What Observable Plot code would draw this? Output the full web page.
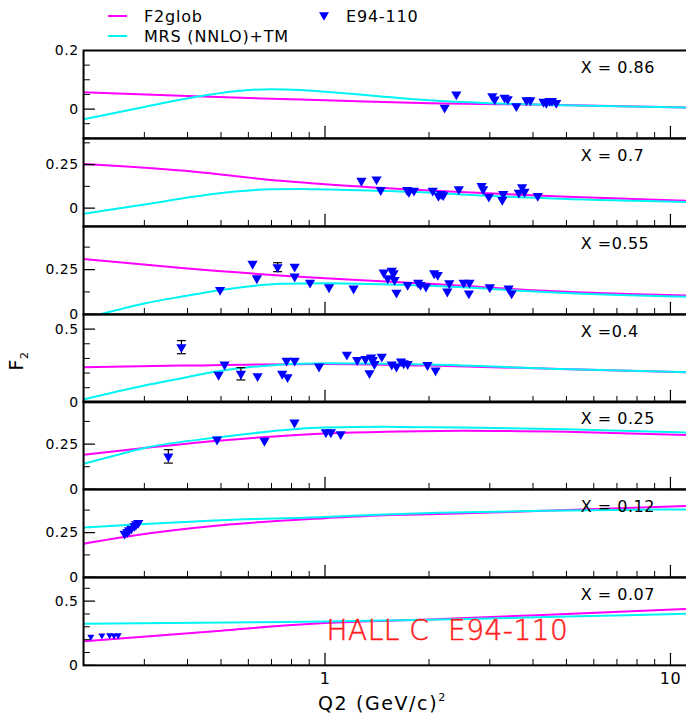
<!DOCTYPE html>
<html><head><meta charset="utf-8">
<script src="https://cdn.jsdelivr.net/npm/d3@7"></script>
<script src="https://cdn.jsdelivr.net/npm/@observablehq/plot@0.6"></script>
<style>
body{margin:0;background:#fff;}
#wrap{position:relative;width:686px;height:721px;overflow:hidden;font-family:"DejaVu Sans",sans-serif;letter-spacing:0.5px;color:#000;}
.panel{position:absolute;left:0;}
.txt{position:absolute;white-space:nowrap;}
</style></head><body><div id="wrap"></div>
<script>
// ---------- data ----------
const panelLabels = ["X = 0.86", "X = 0.7", "X =0.55", "X =0.4", "X = 0.25", "X = 0.12", "X = 0.07"];
const labelQ2 = 5.5;
const yDomains = [[-0.1, 0.2], [-0.105, 0.4], [0, 0.49], [0, 0.6], [0, 0.485], [0, 0.49], [0, 0.684]];
const yTickSteps = [0.05, 0.125, 0.125, 0.1, 0.125, 0.125, 0.1];
const yTickLabels = [[0, 0.2], [0, 0.25], [0, 0.25], [0, 0.5], [0, 0.25], [0, 0.25], [0, 0.5]];
const xDomain = [0.2, 11.2];
const xMinorTicks = [0.3, 0.4, 0.5, 0.6, 0.7, 0.8, 0.9, 2, 3, 4, 5, 6, 7, 8, 9];
const xMajorTicks = [1, 10];
const xTickLabels = [1, 10];
const seriesNames = ["F2glob", "MRS (NNLO)+TM", "E94-110"];
const annotation = "HALL C\u00a0\u00a0E94-110";
const annotationPos = [1.01, 0.27];

// F2glob curves [Q2, F2]
const glob_086 = [[0.2,0.057],[0.4,0.045],[0.7,0.035],[1,0.030],[2,0.020],[4.8,0.014],[11.2,0.005]];
const glob_070 = [[0.2,0.253],[0.42,0.209],[0.7,0.161],[1,0.137],[2.13,0.098],[4.8,0.066],[11.2,0.042]];
const glob_055 = [[0.2,0.309],[0.385,0.258],[1,0.201],[2,0.170],[4.8,0.127],[11.2,0.105]];
const glob_040 = [[0.2,0.240],[0.385,0.251],[1,0.262],[2,0.251],[4.8,0.228],[11.2,0.206]];
const glob_025 = [[0.2,0.191],[0.3,0.228],[0.49,0.268],[1,0.309],[1.5,0.318],[2.5,0.324],[5,0.318],[11.2,0.300]];
const glob_012 = [[0.2,0.188],[0.28,0.234],[0.5,0.291],[1,0.330],[1.48,0.347],[2.13,0.353],[4.3,0.371],[11.2,0.398]];
const glob_007 = [[0.2,0.188],[0.5,0.270],[0.763,0.310],[1,0.330],[2,0.357],[5,0.400],[11.2,0.440]];

// MRS (NNLO)+TM curves [Q2, F2]
const mrs_086 = [[0.2,-0.035],[0.3,0.007],[0.42,0.041],[0.55,0.061],[0.7,0.068],[0.85,0.065],[1,0.059],[1.4,0.045],[2,0.030],[3,0.020],[4.8,0.013],[11.2,0.005]];
const mrs_070 = [[0.2,-0.033],[0.3,0.020],[0.42,0.066],[0.55,0.095],[0.7,0.108],[0.85,0.110],[1,0.107],[2,0.089],[3,0.070],[4.8,0.053],[11.2,0.035]];
const mrs_055 = [[0.2,-0.025],[0.3,0.061],[0.385,0.099],[0.5,0.136],[0.75,0.170],[1,0.173],[2,0.159],[4.8,0.121],[11.2,0.098]];
const mrs_040 = [[0.2,0.020],[0.3,0.115],[0.385,0.165],[0.49,0.213],[0.6,0.240],[1,0.267],[2,0.258],[4.8,0.228],[11.2,0.206]];
const mrs_025 = [[0.2,0.141],[0.25,0.190],[0.3,0.228],[0.49,0.287],[1,0.341],[1.5,0.345],[2.5,0.342],[5,0.332],[11.2,0.313]];
const mrs_012 = [[0.2,0.278],[0.5,0.319],[1,0.337],[1.48,0.351],[2.13,0.360],[4.3,0.371],[11.2,0.379]];
const mrs_007 = [[0.2,0.323],[0.763,0.337],[1,0.341],[2,0.355],[5,0.380],[11.2,0.402]];

// E94-110 data [Q2, F2]
const e94_086 = [[2.22,0.005],[2.40,0.050],[3.05,0.044],[3.10,0.033],[3.31,0.039],[3.38,0.034],[3.58,0.010],[3.83,0.030],[3.93,0.030],[4.29,0.025],[4.37,0.021],[4.47,0.028],[4.54,0.028],[4.67,0.021]];
const e94_070 = [[1.275,0.157],[1.41,0.165],[1.45,0.104],[1.73,0.104],[1.75,0.094],[1.81,0.100],[2.05,0.100],[2.13,0.070],[2.17,0.081],[2.20,0.074],[2.44,0.108],[2.84,0.127],[2.87,0.108],[2.98,0.066],[3.28,0.081],[3.26,0.047],[3.64,0.089],[3.72,0.120],[3.78,0.094],[4.13,0.070]];
const e94_055 = [[0.497,0.136],[0.617,0.282],[0.635,0.201],[0.729,0.263],[0.817,0.266],[0.817,0.211],[0.905,0.177],[1.027,0.151],[1.21,0.144],[1.479,0.233],[1.519,0.201],[1.56,0.244],[1.58,0.229],[1.59,0.192],[1.61,0.121],[1.735,0.164],[1.86,0.177],[1.89,0.164],[1.96,0.155],[2.07,0.229],[2.12,0.220],[2.26,0.127],[2.29,0.173],[2.52,0.177],[2.62,0.177],[2.61,0.117],[3.0,0.151],[3.40,0.145],[3.47,0.117]];
const e94_040 = [[0.384,0.377],[0.492,0.188],[0.512,0.258],[0.571,0.195],[0.638,0.179],[0.752,0.195],[0.779,0.172],[0.774,0.285],[0.817,0.285],[0.961,0.245],[1.157,0.326],[1.239,0.289],[1.31,0.296],[1.345,0.199],[1.36,0.307],[1.375,0.289],[1.39,0.262],[1.46,0.312],[1.56,0.258],[1.61,0.245],[1.66,0.280],[1.69,0.267],[1.735,0.262],[1.98,0.255],[2.09,0.218]];
const e94_025 = [[0.352,0.182],[0.487,0.275],[0.668,0.268],[0.816,0.369],[1.006,0.315],[1.04,0.315],[1.11,0.305]];
const e94_012 = [[0.263,0.244],[0.268,0.253],[0.271,0.263],[0.275,0.272],[0.281,0.287],[0.284,0.296],[0.288,0.304]];
const e94_007 = [[0.210,0.222],[0.226,0.232],[0.238,0.235],[0.245,0.232],[0.252,0.235]];

// error bars [Q2, F2, err]
const err_055 = [[0.729,0.263,0.025]];
const err_040 = [[0.384,0.377,0.045],[0.571,0.195,0.042]];
const err_025 = [[0.352,0.182,0.037]];

const globCurves = [glob_086, glob_070, glob_055, glob_040, glob_025, glob_012, glob_007];
const mrsCurves = [mrs_086, mrs_070, mrs_055, mrs_040, mrs_025, mrs_012, mrs_007];
const e94Points = [e94_086, e94_070, e94_055, e94_040, e94_025, e94_012, e94_007];
const errBars = [[], [], err_055, err_040, err_025, [], []];

// ---------- styling ----------
const MAGENTA = "#ff00ff", CYAN = "#00f4f4", BLUE = "#0000ff", RED = "#ff1c1c";
const TOP = 50, BOTTOM = 665, PH = (BOTTOM - TOP) / 7;
const ML = 83;
const tickShape = {draw(context, l) { context.moveTo(0, 0); context.lineTo(0, -l); }};
const capSymbol = {draw(context) { context.moveTo(-4.5, 0); context.lineTo(4.5, 0); }};

function yTicks(dom, step) {
  const out = [];
  for (let k = Math.ceil(dom[0] / step - 1e-6); k * step <= dom[1] + 1e-9; k++) out.push(+(k * step).toFixed(4));
  return out;
}

const wrap = document.getElementById("wrap");

for (let i = 0; i < 7; i++) {
  const isLast = i === 6;
  const mb = isLast ? 57 : 1;
  const allY = yTicks(yDomains[i], yTickSteps[i]);
  const majY = allY.filter(v => yTickLabels[i].some(l => Math.abs(l - v) < 1e-6));
  const minY = allY.filter(v => !majY.includes(v));
  const errs = errBars[i];
  const caps = errs.flatMap(([q, f, e]) => [[q, f - e], [q, f + e]]);
  const marks = [
    Plot.line(globCurves[i], {x: d => d[0], y: d => d[1], stroke: MAGENTA, strokeWidth: 2, curve: "monotone-x", clip: true}),
    Plot.line(mrsCurves[i], {x: d => d[0], y: d => d[1], stroke: CYAN, strokeWidth: 2, curve: "monotone-x", clip: true}),
    Plot.ruleX(errs, {x: d => d[0], y1: d => d[1] - d[2], y2: d => d[1] + d[2], stroke: "black", strokeWidth: 1.2}),
    Plot.dot(caps, {x: d => d[0], y: d => d[1], symbol: capSymbol, r: 4, stroke: "black", strokeWidth: 1.2, fill: "none"}),
    Plot.dot(e94Points[i], {x: d => d[0], y: d => d[1], symbol: "triangle", rotate: 180, r: isLast ? 2.6 : 3.8, fill: BLUE, stroke: "none"}),
    Plot.vector(xMinorTicks, {x: d => d, frameAnchor: "bottom", length: 6, anchor: "start", shape: tickShape, stroke: "black", strokeWidth: 1}),
    Plot.vector(xMajorTicks, {x: d => d, frameAnchor: "bottom", length: 12, anchor: "start", shape: tickShape, stroke: "black", strokeWidth: 1.2}),
    Plot.vector(minY, {y: d => d, frameAnchor: "left", length: 6, rotate: 90, anchor: "start", shape: tickShape, stroke: "black", strokeWidth: 1}),
    Plot.vector(majY, {y: d => d, frameAnchor: "left", length: 11, rotate: 90, anchor: "start", shape: tickShape, stroke: "black", strokeWidth: 1.2}),
    Plot.axisY(yTickLabels[i], {anchor: "left", tickSize: 0, tickPadding: 5, fontSize: 14, tickFormat: d => String(d), label: null}),
    Plot.text([{q: labelQ2, t: panelLabels[i]}], {x: "q", text: "t", frameAnchor: "top", dy: 11, textAnchor: "start", fontSize: 16, fill: "black"}),
    Plot.frame({stroke: "black", strokeWidth: 2})
  ];
  if (isLast) {
    marks.push(Plot.axisX(xTickLabels, {anchor: "bottom", tickSize: 0, tickPadding: 7, fontSize: 16, tickFormat: d => String(d), label: null}));
    marks.push(Plot.text([{q: annotationPos[0], f: annotationPos[1], t: annotation}], {x: "q", y: "f", text: "t", textAnchor: "start", fontSize: 28, fontWeight: 200, fill: RED, stroke: RED, strokeWidth: 0.5}));
  }
  const chart = Plot.plot({
    width: 688,
    height: PH + 1 + mb,
    marginLeft: ML, marginRight: 1, marginTop: 1, marginBottom: mb,
    x: {type: "log", domain: xDomain, axis: isLast ? undefined : null},
    y: {domain: yDomains[i]},
    style: {background: "transparent", overflow: "visible", maxWidth: "none", fontFamily: "'DejaVu Sans', sans-serif", letterSpacing: "0.5px", color: "black"},
    marks
  });
  chart.classList.add("panel");
  chart.style.top = (TOP + i * PH - 1) + "px";
  wrap.appendChild(chart);
}

// legend
const NS = "http://www.w3.org/2000/svg";
const leg = document.createElementNS(NS, "svg");
leg.setAttribute("width", 686); leg.setAttribute("height", 48);
leg.style.position = "absolute"; leg.style.left = "0"; leg.style.top = "0";
leg.innerHTML = `
  <line x1="108" x2="127" y1="16" y2="16" stroke="${MAGENTA}" stroke-width="2"/>
  <line x1="108" x2="127" y1="36" y2="36" stroke="${CYAN}" stroke-width="2"/>
  <path d="${d3.symbol(d3.symbolTriangle, 42)()}" transform="translate(324,15) rotate(180)" fill="${BLUE}"/>
  <g font-family="'DejaVu Sans', sans-serif" font-size="16" letter-spacing="0.8" dominant-baseline="central">
    <text x="144" y="16">${seriesNames[0]}</text>
    <text x="144" y="36">${seriesNames[1]}</text>
    <text x="346" y="16">${seriesNames[2]}</text>
  </g>`;
wrap.appendChild(leg);

// axis titles
const yt = document.createElement("div");
yt.className = "txt";
yt.innerHTML = 'F<span style="font-size:11px;position:relative;top:5px;">2</span>';
yt.style.cssText += "left:7px;top:350px;font-size:19px;transform:rotate(-90deg);transform-origin:center;";
wrap.appendChild(yt);

const xt = document.createElement("div");
xt.className = "txt";
xt.innerHTML = 'Q2 (GeV/c)<span style="font-size:11px;position:relative;top:-9px;">2</span>';
xt.style.cssText += "left:318px;top:692px;font-size:19px;letter-spacing:1.6px;";
wrap.appendChild(xt);
</script></body></html>
